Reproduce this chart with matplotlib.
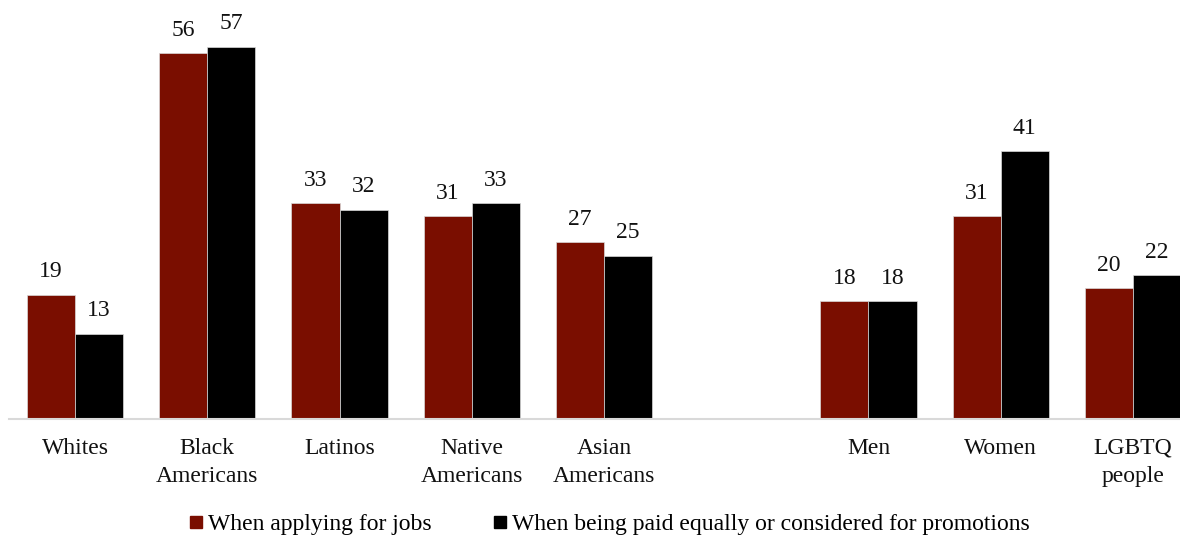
import matplotlib.pyplot as plt
from matplotlib.lines import Line2D

plt.rcParams['font.family'] = ['Liberation Serif', 'DejaVu Serif']

# Share of each group reporting discrimination
groups = ['Whites', 'Black\nAmericans', 'Latinos', 'Native\nAmericans', 'Asian\nAmericans',
          '', 'Men', 'Women', 'LGBTQ\npeople']
jobs = [19, 56, 33, 31, 27, None, 18, 31, 20]
pay = [13, 57, 32, 33, 25, None, 18, 41, 22]
series_names = ['When applying for jobs',
                'When being paid equally or considered for promotions']
red = '#7a0e00'
black = '#000000'
fs = 17

fig = plt.figure(figsize=(11.8, 5.37), dpi=100)
# plot area runs a bit past the right edge, like the cropped original
ax = fig.add_axes([9/1180, 118.5/537, 1190/1180, 391.2/537])

w = 48/132
for i, g in enumerate(groups):
    if jobs[i] is None:
        continue
    ax.bar(i - w/2, jobs[i], w, color=red, edgecolor='#d9d9d9', linewidth=0.5)
    ax.bar(i + w/2, pay[i], w, color=black, edgecolor='#d9d9d9', linewidth=0.5)
    for x, v in ((i - w/2, jobs[i]), (i + w/2, pay[i])):
        ax.annotate(str(v), (x, v), xytext=(0, 12.5), textcoords='offset points',
                    ha='center', va='baseline', fontsize=fs, color='#111111')

ax.set_xlim(-0.5, 8.5)
ax.set_ylim(0, 60)
ax.set_xticks(range(len(groups)))
ax.set_xticklabels(groups, fontsize=fs, color='#111111', linespacing=1.45)
ax.tick_params(axis='x', length=0, pad=14)
ax.set_yticks([])
for s in ('top', 'right', 'left'):
    ax.spines[s].set_visible(False)
ax.spines['bottom'].set_color('#d9d9d9')
ax.spines['bottom'].set_linewidth(1.5)

handles = [Line2D([], [], marker='s', linestyle='none', markersize=8.5, color=c)
           for c in (red, black)]
fig.legend(handles, series_names, loc='center', bbox_to_anchor=(609/1180, 1 - 524/537),
           ncol=2, frameon=False, fontsize=fs, handlelength=0.7, handletextpad=0.15,
           columnspacing=2.55, borderaxespad=0)

fig.savefig('out.png', dpi=100)
